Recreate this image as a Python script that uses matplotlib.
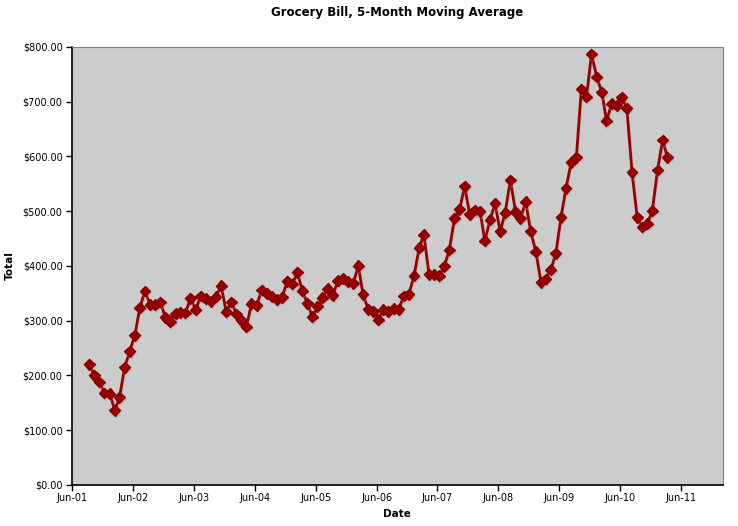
import matplotlib
matplotlib.use("Agg")
import matplotlib.pyplot as plt
import matplotlib.dates as mdates
import matplotlib.patheffects as pe
from matplotlib.ticker import FuncFormatter
import pandas as pd

# 5-month moving average, one value per month from Sep-01 to Mar-11
start_month = "2001-09-01"
totals = [
    220, 200, 188, 168, 167, 136, 160, 215, 244, 273,
    324, 354, 329, 329, 334, 306, 298, 313, 315, 314,
    341, 320, 345, 340, 335, 344, 364, 316, 334, 312,
    301, 289, 331, 328, 356, 350, 344, 338, 343, 372,
    367, 388, 355, 332, 307, 326, 342, 358, 346, 373,
    377, 371, 368, 400, 348, 321, 317, 302, 320, 317,
    322, 321, 345, 348, 382, 433, 457, 385, 385, 382,
    399, 429, 487, 503, 545, 494, 502, 500, 446, 484,
    514, 463, 497, 557, 499, 487, 517, 463, 426, 370,
    376, 393, 423, 489, 542, 589, 598, 723, 709, 787,
    745, 717, 665, 696, 693, 708, 688, 571, 489, 471,
    477, 501, 575, 630, 598,
]
tick_dates = pd.date_range("2001-06-01", "2011-06-01", freq="12MS")

dates = pd.date_range(start_month, periods=len(totals), freq="MS") + pd.Timedelta(days=10)

fig = plt.figure(figsize=(7.38, 5.26), dpi=100)
ax = fig.add_axes([0.098, 0.078, 0.881, 0.833])
ax.set_facecolor("#cccccc")

ax.plot(dates, totals, color="#990000", lw=2, marker="D", ms=5.5,
        markeredgecolor="#880000", markerfacecolor="#990000",
        path_effects=[pe.SimpleLineShadow(offset=(0.6, -1.0), shadow_color="#999999", alpha=0.35),
                      pe.Normal()])

ax.set_ylim(0, 800)
ax.set_yticks(range(0, 801, 100))
ax.yaxis.set_major_formatter(FuncFormatter(lambda v, p: "${:,.2f}".format(v)))
ax.set_xlim(pd.Timestamp("2001-06-01"), pd.Timestamp("2012-02-05"))
ax.set_xticks(tick_dates)
ax.xaxis.set_major_formatter(mdates.DateFormatter("%b-%y"))

ax.tick_params(axis="both", direction="out", length=4, width=1, labelsize=7, pad=3)
ax.tick_params(axis="x", pad=2)
for s in ["top", "right"]:
    ax.spines[s].set_color("#808080")
for s in ["left", "bottom"]:
    ax.spines[s].set_color("black")
    ax.spines[s].set_linewidth(1.2)

ax.set_title("Grocery Bill, 5-Month Moving Average", fontsize=8.5, fontweight="bold", pad=22)
ax.set_xlabel("Date", fontsize=7.5, fontweight="bold", labelpad=4)
ax.set_ylabel("Total", fontsize=7.5, fontweight="bold", labelpad=6)

fig.savefig("out.png", dpi=100)
